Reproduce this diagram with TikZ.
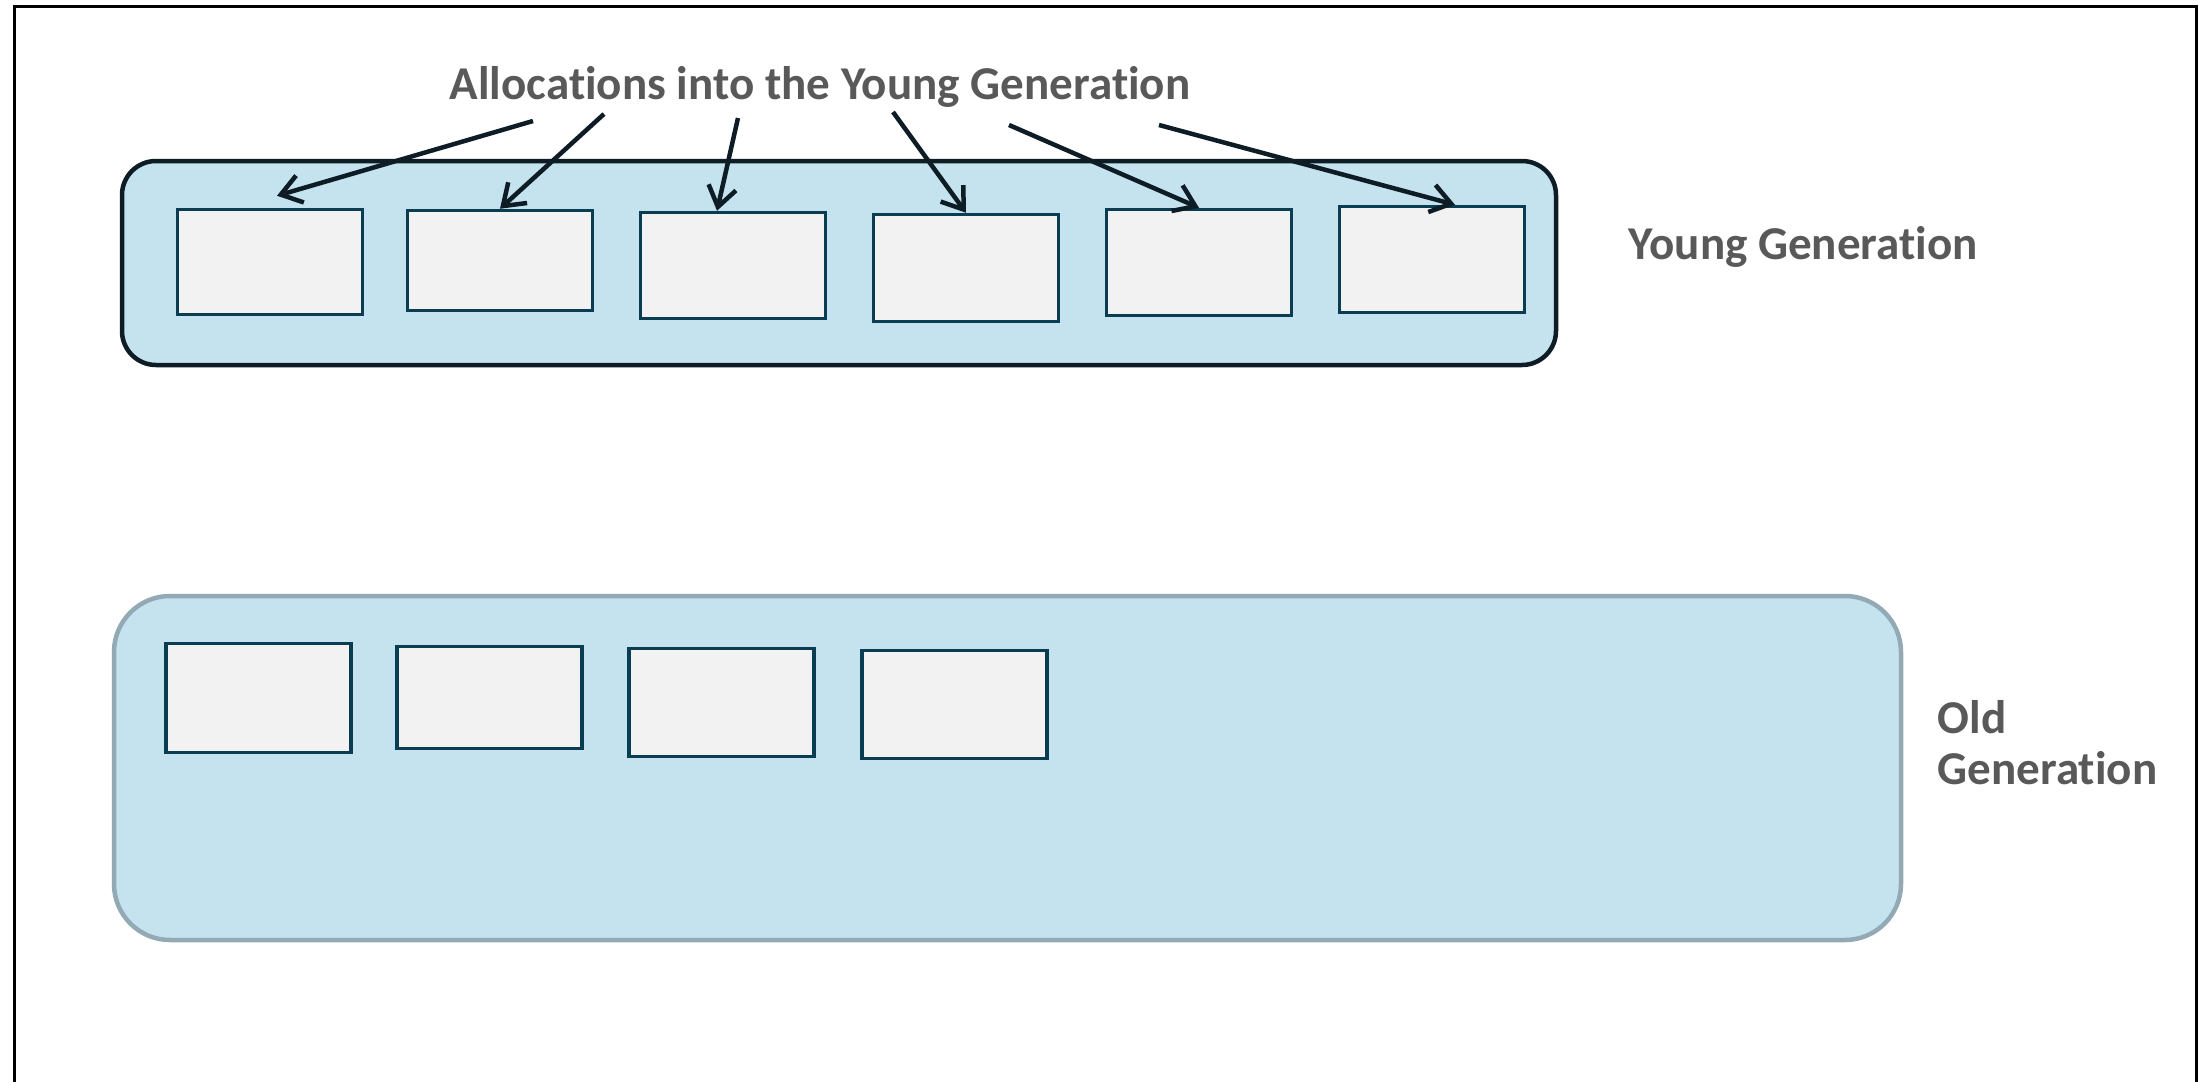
\documentclass[tikz,border=0pt]{standalone}
\usepackage{fontspec}
\setmainfont{Carlito}[Ligatures=NoCommon]
\usetikzlibrary{arrows.meta}
\definecolor{heapfill}{HTML}{C4E3EF}
\definecolor{cellfill}{HTML}{F2F2F2}
\definecolor{cellline}{HTML}{0B3D52}
\definecolor{darkline}{HTML}{0D1C25}
\definecolor{oldline}{HTML}{93AAB5}
\definecolor{labelgray}{HTML}{595959}
\begin{document}
\begin{tikzpicture}[
	cell/.style={draw=cellline,fill=cellfill,line width=0.035cm,inner sep=0pt,minimum width=1.85cm},
	gen/.style={rounded corners=#1,inner sep=0pt,fill=heapfill,line width=0.045cm},
	alloc/.style={-{Straight Barb[length=2mm,width=2.8mm]},draw=darkline,line width=0.045cm},
	lbl/.style={text=labelgray,font=\bfseries\fontsize{13.4}{14.5}\selectfont,inner sep=0pt}]
	\useasboundingbox (0,0) rectangle (22.01,-10.82);
	% outer frame, open at the bottom
	\draw[line width=0.03cm] (0.145,-10.82)--(0.145,-0.06)--(21.965,-0.06)--(21.965,-10.82);
	% the two generations
	\node[gen=0.34cm,draw=darkline,minimum width=14.34cm,minimum height=2.04cm] (young) at (8.39,-2.63) {};
	\node[gen=0.56cm,draw=oldline,minimum width=17.87cm,minimum height=3.44cm] (old) at (10.075,-7.68) {};
	\foreach \i/\x/\y/\h in {1/2.70/2.62/1.05,2/5.00/2.605/1.00,3/7.33/2.655/1.06,4/9.66/2.68/1.07,5/11.99/2.625/1.06,6/14.32/2.595/1.06}
		\node[cell,minimum height=\h cm] (y\i) at (\x,-\y) {};
	\foreach \i/\x/\y/\h in {1/2.585/6.98/1.09,2/4.895/6.975/1.02,3/7.215/7.025/1.08,4/9.545/7.045/1.08}
		\node[cell,minimum height=\h cm] (o\i) at (\x,-\y) {};
	% labels
	\node[lbl,anchor=base] (title) at (8.20,-0.99) {Allocations into the Young Generation};
	\node[lbl,anchor=base west] (younglbl) at (16.28,-2.59) {Young Generation};
	\node[lbl,anchor=base west,align=left] (oldlbl) at (19.37,-7.84) {Old\\Generation};
	% allocation arrows
	\coordinate (a1) at (5.33,-1.21);
	\coordinate (a2) at (6.04,-1.14);
	\coordinate (a3) at (7.38,-1.18);
	\coordinate (a4) at (8.93,-1.12);
	\coordinate (a5) at (10.09,-1.25);
	\coordinate (a6) at (11.59,-1.25);
	\foreach \i/\dx/\dy in {1/0.07/0.12,2/0/0,3/-0.16/0,4/0/0,5/0/0,6/0.23/0}
		\draw[alloc] (a\i)--([shift={(\dx,\dy)}]y\i.north);
\end{tikzpicture}
\end{document}
